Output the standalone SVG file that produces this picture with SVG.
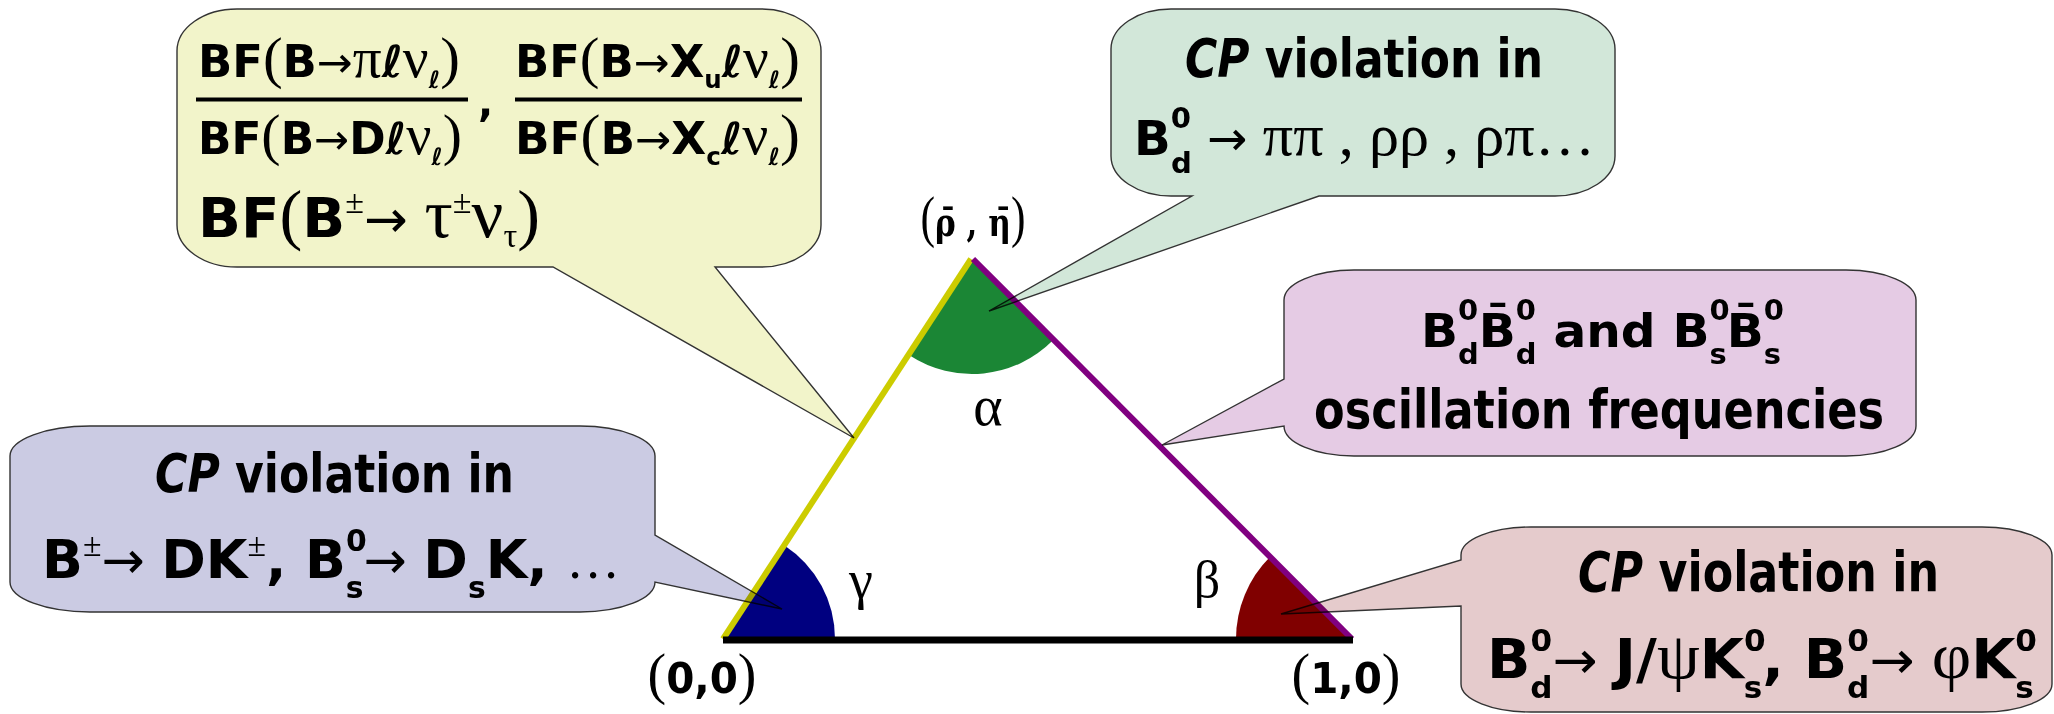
<svg xmlns="http://www.w3.org/2000/svg" width="2054" height="714" viewBox="0 0 2054 714">
<style>
.t{font-family:"DejaVu Sans","Liberation Sans",sans-serif;font-weight:bold;fill:#000}
.m{font-family:"Liberation Serif","DejaVu Serif",serif;font-weight:normal;font-style:normal}
.ar{font-family:"DejaVu Sans",sans-serif;font-weight:normal;font-style:normal}
.co{stroke:#333;stroke-width:1.4;mix-blend-mode:multiply;stroke-linejoin:miter}
.lbl{font-family:"Liberation Serif","DejaVu Serif",serif;fill:#000}
</style>
<rect width="2054" height="714" fill="#fff"/>
<g id="triangle">
<path d="M972,260 L909.4,355.3 A114 114 0 0 0 1052.7,340.5 Z" fill="#1b8635"/>
<path d="M723,639 L835,639 A112 112 0 0 0 784.5,545.4 Z" fill="#000080"/>
<path d="M1352,639 L1269.9,557.1 A116 116 0 0 0 1236,639 Z" fill="#800000"/>
<g id="edges">
<line x1="723" y1="639" x2="971" y2="259" stroke="#cccc00" stroke-width="6"/>
<line x1="973" y1="259" x2="1352" y2="639" stroke="#800080" stroke-width="6"/>
<line x1="723" y1="640" x2="1353" y2="640" stroke="#000" stroke-width="7"/>
</g>
</g>
<g id="labels">
<text class="lbl" x="988" y="425" font-size="56" text-anchor="middle">α</text>
<text class="lbl" x="861" y="598" font-size="54" text-anchor="middle">γ</text>
<text class="lbl" x="1207" y="597" font-size="52" text-anchor="middle">β</text>
<text x="973" y="236" font-family="DejaVu Serif, serif" font-size="40" font-weight="bold" text-anchor="middle" textLength="105" lengthAdjust="spacingAndGlyphs"><tspan class="m" font-size="56">(</tspan>ρ̄ , η̄<tspan class="m" font-size="56">)</tspan></text>
<text class="t" x="702" y="693" font-size="42" text-anchor="middle" textLength="109" lengthAdjust="spacingAndGlyphs"><tspan class="m" font-size="58">(</tspan>0,0<tspan class="m" font-size="58">)</tspan></text>
<text class="t" x="1346" y="693" font-size="42" text-anchor="middle" textLength="109" lengthAdjust="spacingAndGlyphs"><tspan class="m" font-size="58">(</tspan>1,0<tspan class="m" font-size="58">)</tspan></text>
</g>
<g id="callout-bf">
<path class="co" fill="#f2f4ca" d="M237,9 H761 A60 42 0 0 1 821,51 V225 A60 42 0 0 1 761,267 H715 L854,438 L553,267 H237 A60 42 0 0 1 177,225 V51 A60 42 0 0 1 237,9 Z"/>
<text class="t" x="198" y="77" font-size="44" textLength="262" lengthAdjust="spacingAndGlyphs">BF<tspan class="m" font-size="58">(</tspan>B<tspan class="ar" font-size="42">→</tspan><tspan class="m" font-size="56">π</tspan>ℓ<tspan class="m" font-size="56">ν</tspan><tspan font-size="24" dy="11">ℓ</tspan><tspan class="m" font-size="58" dy="-11">)</tspan></text>
<text class="t" x="515" y="77" font-size="44" textLength="285" lengthAdjust="spacingAndGlyphs">BF<tspan class="m" font-size="58">(</tspan>B<tspan class="ar" font-size="42">→</tspan>X<tspan font-size="24" dy="11">u</tspan><tspan dy="-11">ℓ</tspan><tspan class="m" font-size="56">ν</tspan><tspan font-size="24" dy="11">ℓ</tspan><tspan class="m" font-size="58" dy="-11">)</tspan></text>
<line x1="196" y1="99.5" x2="468" y2="99.5" stroke="#000" stroke-width="4"/>
<line x1="515" y1="99.5" x2="802" y2="99.5" stroke="#000" stroke-width="4"/>
<text class="t" x="478" y="116" font-size="40">,</text>
<text class="t" x="198" y="154" font-size="44" textLength="264" lengthAdjust="spacingAndGlyphs">BF<tspan class="m" font-size="58">(</tspan>B<tspan class="ar" font-size="42">→</tspan>Dℓ<tspan class="m" font-size="56">ν</tspan><tspan font-size="24" dy="11">ℓ</tspan><tspan class="m" font-size="58" dy="-11">)</tspan></text>
<text class="t" x="515" y="154" font-size="44" textLength="285" lengthAdjust="spacingAndGlyphs">BF<tspan class="m" font-size="58">(</tspan>B<tspan class="ar" font-size="42">→</tspan>X<tspan font-size="24" dy="11">c</tspan><tspan dy="-11">ℓ</tspan><tspan class="m" font-size="56">ν</tspan><tspan font-size="24" dy="11">ℓ</tspan><tspan class="m" font-size="58" dy="-11">)</tspan></text>
<text class="t" x="198" y="237" font-size="56" textLength="342" lengthAdjust="spacingAndGlyphs">BF<tspan class="m" font-size="68">(</tspan>B<tspan class="m" font-size="34" dy="-24">±</tspan><tspan class="ar" font-size="52" dy="24">→ </tspan><tspan class="m" font-size="70">τ</tspan><tspan class="m" font-size="34" dy="-24">±</tspan><tspan class="m" font-size="70" dy="24">ν</tspan><tspan class="m" font-size="34" dy="10">τ</tspan><tspan class="m" font-size="68" dy="-10">)</tspan></text>
</g>
<g id="callout-alpha">
<path class="co" fill="#d2e7d9" d="M1171,9 H1555 A60 40 0 0 1 1615,49 V156 A60 40 0 0 1 1555,196 H1319 L989,311 L1192,196 H1171 A60 40 0 0 1 1111,156 V49 A60 40 0 0 1 1171,9 Z"/>
<text class="t" x="1185" y="77" font-size="54" textLength="358" lengthAdjust="spacingAndGlyphs"><tspan font-style="italic">CP</tspan> violation in</text>
<text class="t" x="1134" y="155" font-size="48" textLength="461" lengthAdjust="spacingAndGlyphs">B<tspan font-size="29" dy="-27">0</tspan><tspan font-size="29" dx="-20" dy="45">d</tspan><tspan class="ar" font-size="48" dy="-18"> → </tspan><tspan class="m" font-size="60">ππ , ρρ , ρπ…</tspan></text>
</g>
<g id="callout-osc">
<path class="co" fill="#e5cbe4" d="M1354,270 H1846 A70 30 0 0 1 1916,300 V426 A70 30 0 0 1 1846,456 H1354 A70 30 0 0 1 1284,426 L1162,445 L1284,379 V300 A70 30 0 0 1 1354,270 Z"/>
<text class="t" x="1421" y="347" font-size="47" textLength="363" lengthAdjust="spacingAndGlyphs">B<tspan font-size="28" dy="-27">0</tspan><tspan font-size="28" dx="-19.5" dy="44">d</tspan><tspan dy="-17">B̄</tspan><tspan font-size="28" dy="-27">0</tspan><tspan font-size="28" dx="-19.5" dy="44">d</tspan><tspan dy="-17"> and B</tspan><tspan font-size="28" dy="-27">0</tspan><tspan font-size="28" dx="-19.5" dy="44">s</tspan><tspan dy="-17">B̄</tspan><tspan font-size="28" dy="-27">0</tspan><tspan font-size="28" dx="-19.5" dy="44">s</tspan></text>
<text class="t" x="1314" y="428" font-size="53" textLength="570" lengthAdjust="spacingAndGlyphs">oscillation frequencies</text>
</g>
<g id="callout-gamma">
<path class="co" fill="#cbcbe3" d="M90,426 H580 A75 30 0 0 1 655,456 V535 L782,609 L655,582 A75 30 0 0 1 580,612 H90 A80 30 0 0 1 10,582 V456 A80 30 0 0 1 90,426 Z"/>
<text class="t" x="155" y="492" font-size="54" textLength="359" lengthAdjust="spacingAndGlyphs"><tspan font-style="italic">CP</tspan> violation in</text>
<text class="t" x="42" y="578" font-size="54" textLength="578" lengthAdjust="spacingAndGlyphs">B<tspan class="m" font-size="34" dy="-22">±</tspan><tspan class="ar" font-size="52" dy="22">→ </tspan>DK<tspan class="m" font-size="34" dy="-22">±</tspan><tspan dy="22">, B</tspan><tspan font-size="30" dy="-27">0</tspan><tspan font-size="30" dx="-21" dy="47">s</tspan><tspan class="ar" font-size="52" dy="-20">→ </tspan>D<tspan font-size="30" dy="20">s</tspan><tspan dy="-20">K, </tspan><tspan class="m">…</tspan></text>
</g>
<g id="callout-beta">
<path class="co" fill="#e5cbcc" d="M1531,527 H1982 A70 28 0 0 1 2052,555 V684 A70 28 0 0 1 1982,712 H1531 A70 28 0 0 1 1461,684 V606 L1281,614 L1461,560 V555 A70 28 0 0 1 1531,527 Z"/>
<text class="t" x="1578" y="591" font-size="55" textLength="361" lengthAdjust="spacingAndGlyphs"><tspan font-style="italic">CP</tspan> violation in</text>
<text class="t" x="1487" y="678" font-size="55" textLength="550" lengthAdjust="spacingAndGlyphs">B<tspan font-size="30" dy="-27">0</tspan><tspan font-size="30" dx="-21" dy="47">d</tspan><tspan class="ar" font-size="52" dy="-20">→ </tspan>J/<tspan class="m" font-size="66">ψ</tspan>K<tspan font-size="30" dy="-27">0</tspan><tspan font-size="30" dx="-21" dy="47">s</tspan><tspan dy="-20">, B</tspan><tspan font-size="30" dy="-27">0</tspan><tspan font-size="30" dx="-21" dy="47">d</tspan><tspan class="ar" font-size="52" dy="-20">→ </tspan><tspan class="m" font-size="66">φ</tspan>K<tspan font-size="30" dy="-27">0</tspan><tspan font-size="30" dx="-21" dy="47">s</tspan></text>
</g>
</svg>
